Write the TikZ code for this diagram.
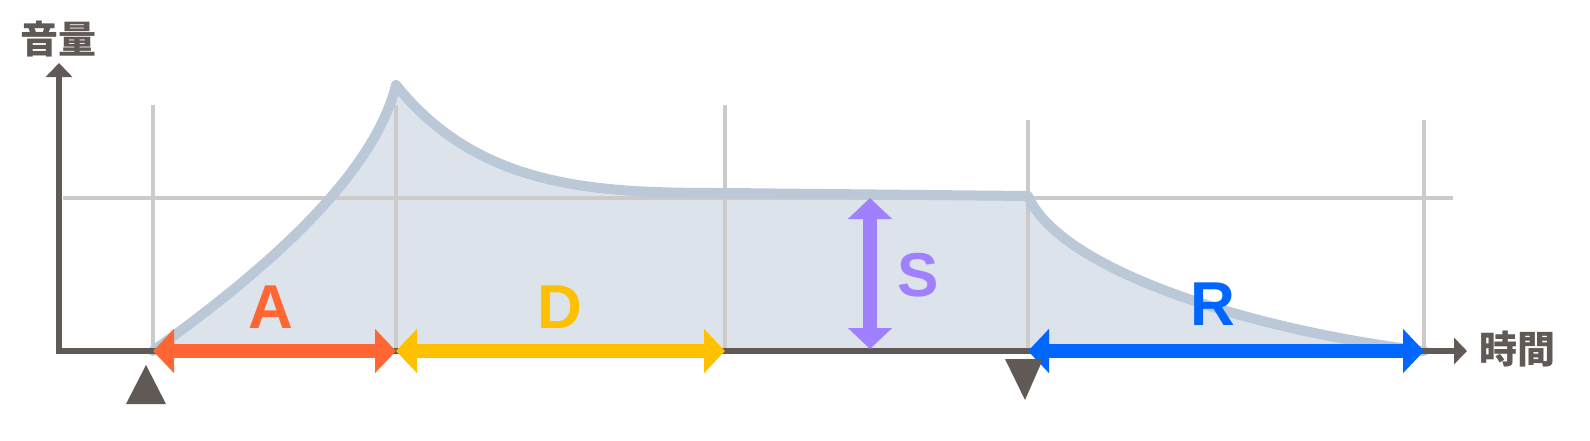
\documentclass[tikz,border=0pt]{standalone}
\usepackage{fontspec}
\setmainfont{Liberation Sans}
\newfontfamily\jpfont{Noto Sans CJK JP}
\usepackage{tikz}
\usetikzlibrary{arrows.meta}
\definecolor{axcol}{HTML}{615956}
\definecolor{guidecol}{HTML}{CDCACA}
\definecolor{envfill}{HTML}{DCE3EB}
\definecolor{envline}{HTML}{BAC8D8}
\definecolor{acol}{HTML}{FF6633}
\definecolor{dcol}{HTML}{FFC000}
\definecolor{scol}{HTML}{A080FF}
\definecolor{rcol}{HTML}{0066FF}

\begin{document}
\begin{tikzpicture}[
    x=1pt, y=-1pt,
    axline/.style={draw=axcol, line width=5.5pt,
                   {Triangle[width=26pt,length=14pt]}-{Triangle[width=26pt,length=13pt]}},
    guide/.style={draw=guidecol, line width=3.5pt},
    seg/.style={line width=14pt,
                {Triangle[width=43pt,length=21pt]}-{Triangle[width=43pt,length=21pt]}},
    lbl/.style={inner sep=0pt, font=\fontsize{62}{62}\selectfont\bfseries},
    jp/.style={inner sep=0pt, text=axcol, font=\jpfont\bfseries\fontsize{38}{38}\selectfont},
    trig/.style={fill=axcol}
  ]
    \useasboundingbox (0,0) rectangle (1590,440);
    \coordinate (o)    at (59,351);
    \coordinate (ytip) at (59,63);
    \coordinate (xtip) at (1467,351);
    \coordinate (t0) at (153,351);
    \coordinate (t1) at (396,351);
    \coordinate (t2) at (725,351);
    \coordinate (t3) at (1028,351);
    \coordinate (t4) at (1424,351);
    \coordinate (pk)  at (396,85);
    \coordinate (sus) at (725,193);
    \coordinate (rel) at (1028,196);
    \coordinate (s0) at (870,198);
    \coordinate (s1) at (870,349);
    \fill[envfill] (t0) .. controls (230,295) and (370,190) .. (pk)
        .. controls (480,190) and (600,193) .. (sus) -- (rel)
        .. controls (1060,270) and (1250,330) .. (t4) -- cycle;
    \foreach \x/\top in {153/105, 396/105, 725/105, 1028/120, 1424/120} {
      \draw[guide] (\x,\top) -- (\x,351);
    }
    \draw[guide] (63,198) -- (1453,198);
    \draw[envline, line width=10pt, line join=round, line cap=round]
        (t0) .. controls (230,295) and (370,190) .. (pk)
        .. controls (480,190) and (600,193) .. (sus) -- (rel)
        .. controls (1060,270) and (1250,330) .. (t4);
    \draw[axline] (ytip) -- (o) -- (xtip);
    \node[jp] (vol)  at (58,39)    {音量};
    \node[jp] (time) at (1517,349) {時間};
    \draw[seg, draw=acol] (t0) -- (t1);
    \draw[seg, draw=dcol] (t1) -- (t2);
    \draw[seg, draw=scol] (s0) -- (s1);
    \draw[seg, draw=rcol] (t3) -- (t4);
    \node[lbl, text=acol] (la) at (271,307) {A};
    \node[lbl, text=dcol] (ld) at (560,307) {D};
    \node[lbl, text=scol] (ls) at (918,275) {S};
    \node[lbl, text=rcol] (lr) at (1213,304) {R};
    \fill[trig] (126,404) -- (146,365) -- (166,404) -- cycle;
    \fill[trig] (1005,359) -- (1043,359) -- (1025,400) -- cycle;
\end{tikzpicture}
\end{document}
